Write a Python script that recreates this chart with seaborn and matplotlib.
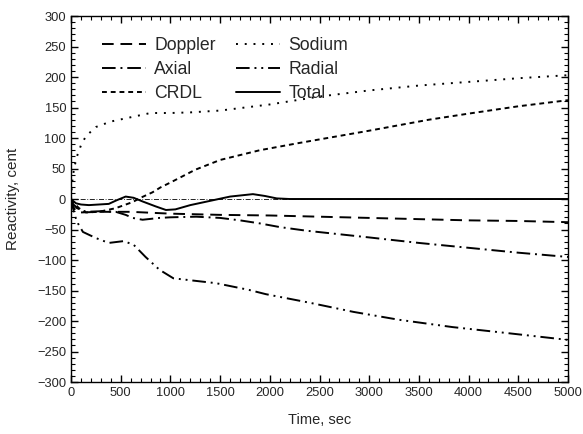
import matplotlib
matplotlib.use("Agg")
import matplotlib.pyplot as plt
from matplotlib.ticker import MultipleLocator
import seaborn as sns

# Reactivity components (cent) versus time (sec)
doppler_t = [0, 20, 50, 100, 300, 600, 1000, 1500, 2000, 2500, 3000, 3500, 4000, 4500, 5000]
doppler_v = [0, -12, -20, -22, -21, -21, -24, -26, -27, -29, -31, -33, -35, -36, -38]

sodium_t = [0, 10, 30, 60, 100, 150, 250, 400, 600, 800, 1000, 1200, 1500, 2000, 2500,
            3000, 3500, 4000, 4500, 5000]
sodium_v = [0, 25, 50, 70, 88, 103, 118, 127, 134, 141, 141, 142, 145, 155, 168,
            178, 186, 192, 198, 203]

axial_t = [0, 20, 60, 150, 300, 450, 550, 620, 720, 890, 1000, 1260, 1500, 1700, 1900,
           2100, 2370, 3000, 3500, 4000, 4500, 5000]
axial_v = [0, -8, -15, -21, -20, -21, -26, -31, -34, -31, -30, -29, -31, -35, -40,
           -46, -52, -63, -72, -80, -88, -95]

radial_t = [0, 20, 40, 70, 120, 250, 380, 530, 630, 750, 890, 1030, 1190, 1460, 1790,
            1960, 2400, 2840, 3300, 3840, 4400, 5000]
radial_v = [0, -15, -28, -40, -54, -64, -72, -69, -75, -95, -116, -130, -133, -138, -149,
            -156, -170, -185, -198, -210, -220, -231]

crdl_t = [0, 20, 80, 150, 280, 450, 620, 700, 820, 900, 1000, 1250, 1500, 1900, 2300,
          3000, 3600, 4000, 4500, 5000]
crdl_v = [0, -5, -15, -22, -21, -15, -5, 2, 11, 19, 27, 48, 64, 80, 92,
          112, 130, 140, 152, 162]

total_t = [0, 20, 50, 100, 180, 280, 380, 460, 550, 630, 720, 850, 955, 1050, 1200,
           1400, 1600, 1830, 1950, 2070, 2200, 2500, 3000, 4000, 5000]
total_v = [0, -3, -7, -9, -10, -9, -8, -2, 4, 2, -4, -12, -18, -17, -10,
           -3, 4, 8, 5, 1, 0, 0, 0, 0, 0]

sns.set_style("ticks")
plt.rcParams["font.family"] = ["Liberation Sans", "DejaVu Sans"]

fig = plt.figure(figsize=(5.83, 4.34), dpi=100)
ax = fig.add_axes([0.1218, 0.1198, 0.8525, 0.8433])

ax.axhline(0, color="black", lw=0.6, dashes=(6, 2, 1, 2), zorder=1)

lw = 1.4
series = [
    ("Doppler", doppler_t, doppler_v, (6, 3.5)),
    ("Axial", axial_t, axial_v, (7, 2.5, 1, 2.5)),
    ("CRDL", crdl_t, crdl_v, (2.5, 2)),
    ("Sodium", sodium_t, sodium_v, (1, 3.5)),
    ("Radial", radial_t, radial_v, (7, 2.5, 1, 2.5, 1, 2.5)),
    ("Total", total_t, total_v, None),
]
for name, t, v, d in series:
    sns.lineplot(x=t, y=v, ax=ax, color="black", lw=lw, label=name, zorder=3)
    line = ax.lines[-1]
    if d is not None:
        line.set_dashes(d)

ax.set_xlim(0, 5000)
ax.set_ylim(-300, 300)
ax.xaxis.set_major_locator(MultipleLocator(500))
ax.xaxis.set_minor_locator(MultipleLocator(100))
ax.yaxis.set_major_locator(MultipleLocator(50))
ax.yaxis.set_minor_locator(MultipleLocator(10))
ax.tick_params(which="both", direction="in", top=True, right=True, color="black",
               labelsize=9.3)
ax.tick_params(which="major", length=5, width=1)
ax.tick_params(which="minor", length=3, width=0.8)
for s in ax.spines.values():
    s.set_color("black")
    s.set_linewidth(1.0)

ax.set_xlabel("Time, sec", fontsize=10.5, labelpad=10)
ax.set_ylabel("Reactivity, cent", fontsize=11, labelpad=12)

ax.legend(loc="upper left", ncol=2, frameon=False, fontsize=12.7,
          handlelength=2.5, handletextpad=0.45, columnspacing=1.15,
          labelspacing=0.38, bbox_to_anchor=(0.031, 0.985))

fig.savefig("out.png", dpi=100)
